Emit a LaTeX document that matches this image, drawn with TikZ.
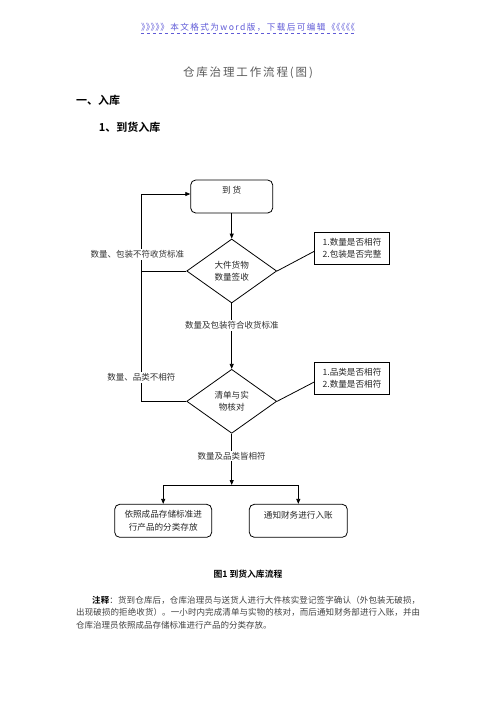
\documentclass[tikz,border=0pt]{standalone}
\usepackage{graphicx}
\usepackage{fontspec}
\setmainfont{Noto Sans CJK SC}[BoldFont={Noto Sans CJK SC Bold}]
\usetikzlibrary{shapes.geometric,arrows.meta}
\definecolor{linkblue}{RGB}{95,90,215}
\newcommand\hqr{\makebox[0.56em][l]{》}}
\newcommand\hql{\makebox[0.56em][r]{《}}
\makeatletter
\newcommand\spreadtext[1]{\def\sp@first{1}\@tfor\sp@t:=#1\do{\ifx\sp@first\@empty\hfil\fi\let\sp@first\@empty\sp@t}}
\makeatother
\tikzset{
  flow/.style={draw=black, line width=0.8pt, align=center, font=\fontsize{8.6}{12.5}\selectfont, text=black!85, inner sep=0pt},
  rbox/.style={flow, rounded corners=5pt},
  sbox/.style={flow},
  diam/.style={flow, diamond, minimum width=90pt, minimum height=64pt},
  lbl/.style={fill=white, inner sep=1.5pt, font=\fontsize{8.5}{10}\selectfont, text=black!80},
  conn/.style={line width=0.8pt, draw=black},
  arr/.style={conn, -{Triangle[length=5pt,width=4pt]}},
  plain/.style={inner sep=0pt},
}
\begin{document}
\begin{tikzpicture}[x=1pt,y=-1pt]
\useasboundingbox (0,0) rectangle (496,702);
% header
\node[plain] (link) at (248,27) {\fontsize{8.6}{10}\selectfont\color{linkblue}\makebox[214pt][s]{\mbox{\hqr\hqr\hqr\hqr\hqr}\hspace{4pt plus 1fil}\spreadtext{本文格式为word版，下载后可编辑}\hspace{4pt plus 1fil}\mbox{\hql\hql\hql\hql\hql}}};
\draw[linkblue, dashed, line width=0.6pt] ([yshift=-1.5pt]link.south west) -- ([yshift=-1.5pt]link.south east);
\node[plain] (title) at (248,73) {\fontsize{11.5}{14}\selectfont\color{black!65}\makebox[130pt][s]{\spreadtext{仓库治理工作流程(图)}}};
\node[anchor=west, plain] (h1) at (76,100) {\fontsize{11}{12}\selectfont\bfseries 一、入库};
\node[anchor=west, plain] (h2) at (98.7,127) {\fontsize{11}{12}\selectfont\bfseries 1、到货入库};
% flowchart nodes
\node[rbox, minimum width=82pt, minimum height=33pt] (arrive) at (231.7,196.5) {到\ 货\\\mbox{}};
\node[diam] (d1) at (231.7,271) {大件货物\\数量签收};
\node[sbox, minimum width=74.3pt, minimum height=32pt] (n1) at (352,248.3) {1.数量是否相符\\2.包装是否完整};
\node[diam] (d2) at (231.7,401.3) {清单与实\\物核对};
\node[sbox, minimum width=74.3pt, minimum height=31.3pt] (n2) at (352,378.3) {1.品类是否相符\\2.数量是否相符};
\node[rbox, minimum width=97pt, minimum height=33pt] (b1) at (163.2,520.8) {依照成品存储标准进\\行产品的分类存放};
\node[rbox, minimum width=98pt, minimum height=33pt] (b2) at (298.3,520.8) {通知财务进行入账\\\mbox{}};
% coordinates
\coordinate (j) at (231.7,485);
\coordinate (ltop) at (141.7,194);
\coordinate (l1) at (141.7,271);
\coordinate (l2) at (141.7,401.3);
\coordinate (n1in) at (314.8,251);
\coordinate (n2in) at (314.8,381.7);
% connectors
\draw[arr] (arrive) -- (d1);
\draw[conn] (d1.east) -- (n1in);
\draw[conn] (d2.east) -- (n2in);
\draw[arr] (d1) -- (d2);
\draw[arr] (d2.south) -- (j);
\draw[arr] (j) -| (b1.north);
\draw[arr] (j) -| (b2.north);
\draw[conn] (d1.west) -- (l1);
\draw[conn] (d2.west) -- (l2) -- (ltop);
\draw[arr] (ltop) -- (arrive.west |- ltop);
% labels
\node[lbl] (t1) at (137.3,254.7) {数量、包装不符收货标准};
\node[lbl] (t2) at (141.3,377.7) {数量、品类不相符};
\node[lbl] (t3) at (231.8,325.7) {数量及包装符合收货标准};
\node[lbl] (t4) at (231.5,456) {数量及品类皆相符};
% caption and note
\node[plain] (cap) at (248,574) {\fontsize{8.8}{10}\selectfont\bfseries 图1\ 到货入库流程};
\node[anchor=west, plain] (note1) at (92,600) {\fontsize{8.5}{10}\selectfont\color{black!75}\makebox[328pt][s]{{\color{black}\bfseries 注\hfil 释}\hfil\spreadtext{：货到仓库后，仓库治理员与送货人进行大件核实登记签字确认（外包装无破损，}}};
\node[anchor=west, plain] (note2) at (76,612.5) {\fontsize{8.5}{10}\selectfont\color{black!75}\makebox[344pt][s]{\spreadtext{出现破损的拒绝收货）。一小时内完成清单与实物的核对，而后通知财务部进行入账，并由}}};
\node[anchor=west, plain] (note3) at (76,625) {\fontsize{8.5}{10}\selectfont\color{black!75}仓库治理员依照成品存储标准进行产品的分类存放。};
\end{tikzpicture}
\end{document}
